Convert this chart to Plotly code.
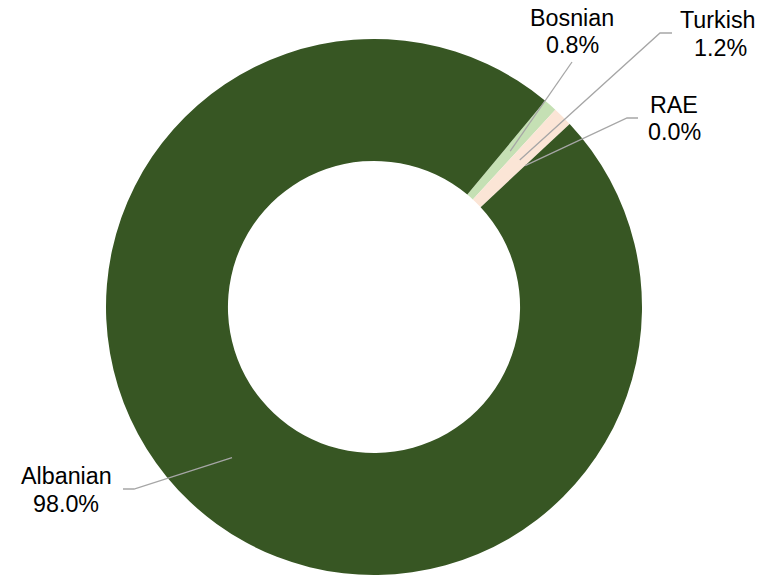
import math
import plotly.graph_objects as go

# ---- data ----
labels = ["Bosnian", "Turkish", "RAE", "Albanian"]
values = [0.8, 1.2, 0.0, 98.0]
colors = ["#C5E0B4", "#FBE5D6", "#F4B183", "#375623"]

W, H = 769, 575
HOLE = 0.545
ROT = 39.7
DOM_X = [0.0, 0.9727]
DOM_Y = [0.0, 536 / 575]

fig = go.Figure(go.Pie(
    labels=labels, values=values, marker=dict(colors=colors, line=dict(width=0)),
    hole=HOLE, sort=False, direction="clockwise", rotation=ROT,
    textinfo="none", hoverinfo="label+percent", showlegend=False,
    domain=dict(x=DOM_X, y=DOM_Y),
))

# geometry (pixels) derived from the domain
cx = (DOM_X[0] + DOM_X[1]) / 2 * W
cy = H - (DOM_Y[0] + DOM_Y[1]) / 2 * H
R = min((DOM_X[1] - DOM_X[0]) * W, (DOM_Y[1] - DOM_Y[0]) * H) / 2
rmid = (R + R * HOLE) / 2

def px(x, y):
    return x / W, 1 - y / H

# label layout: (name center, value center, elbow path points)
label_pos = {
    "Bosnian": ((572, 18), (572, 45), [(572, 62)]),
    "Turkish": ((718, 20), (720, 48), [(660, 33), (672, 33)]),
    "RAE": ((674, 105), (674, 132), [(627, 118), (638, 118)]),
    "Albanian": ((66, 476), (66, 504), [(134, 489), (123, 489)]),
}

total = sum(values)
cum = 0.0
shapes = []
annotations = []
for lab, v in zip(labels, values):
    mid = ROT + (cum + v / 2) / total * 360
    cum += v
    a = math.radians(mid)
    sx, sy = cx + rmid * math.sin(a), cy - rmid * math.cos(a)
    (nx, ny), (vx, vy), pts = label_pos[lab]
    path = "M {} {}".format(*px(sx, sy)) + "".join(" L {} {}".format(*px(x, y)) for x, y in pts)
    shapes.append(dict(type="path", xref="paper", yref="paper", path=path,
                       line=dict(color="#A6A6A6", width=1.3)))
    pct = v / total * 100
    for (tx, ty), txt in (((nx, ny), lab), ((vx, vy), f"{pct:.1f}%")):
        x, y = px(tx, ty)
        annotations.append(dict(x=x, y=y, xref="paper", yref="paper", text=txt,
                                showarrow=False, xanchor="center", yanchor="middle",
                                font=dict(family="Liberation Sans, Arial", size=23.3, color="#000000")))

fig.update_layout(
    width=W, height=H, margin=dict(l=0, r=0, t=0, b=0),
    paper_bgcolor="white", plot_bgcolor="white",
    shapes=shapes, annotations=annotations,
)

fig.write_html("out.html", config={"displayModeBar": False},
               post_script="document.body.style.margin='0';document.body.style.overflow='hidden';")
